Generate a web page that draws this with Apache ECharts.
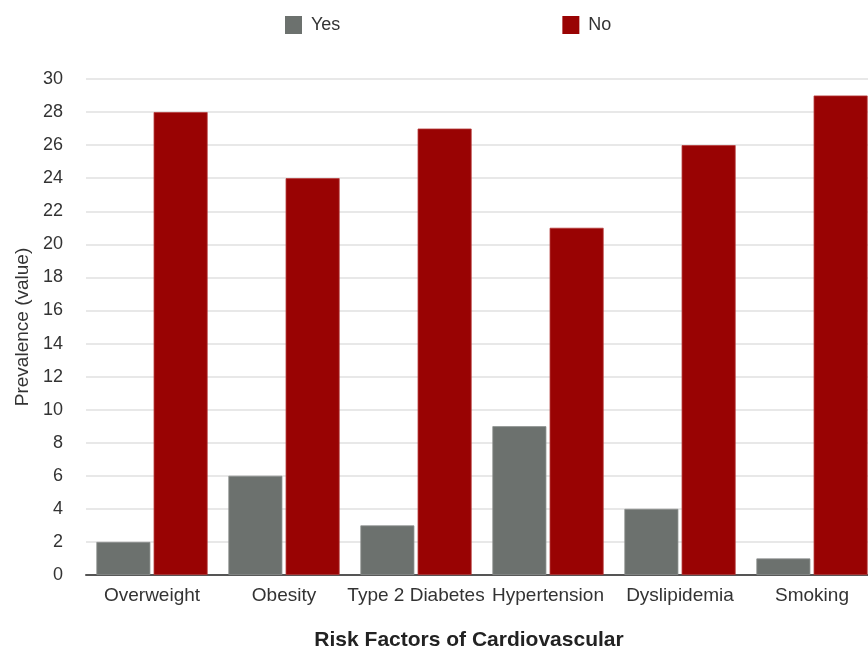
<!DOCTYPE html>
<html>
<head>
<meta charset="utf-8">
<script src="https://cdn.jsdelivr.net/npm/echarts@6/dist/echarts.min.js"></script>
<style>
  html, body { margin: 0; padding: 0; background: #fff; }
  #chart { width: 868px; height: 650px; }
</style>
</head>
<body>
<div id="chart"></div>
<script>
const categories = ['Overweight', 'Obesity', 'Type 2 Diabetes', 'Hypertension', 'Dyslipidemia', 'Smoking'];
const yesValues = [2, 6, 3, 9, 4, 1];
const noValues = [28, 24, 27, 21, 26, 29];
const seriesNames = ['Yes', 'No'];
const xAxisTitle = 'Risk Factors of Cardiovascular';
const yAxisTitle = 'Prevalence (value)';

const FONT = "'Liberation Sans', Arial, Helvetica, sans-serif";
const chart = echarts.init(document.getElementById('chart'), null, { renderer: 'canvas' });
chart.setOption({
  animation: false,
  backgroundColor: '#ffffff',
  textStyle: { fontFamily: FONT },
  legend: {
    data: seriesNames,
    left: 280,
    top: 11,
    itemWidth: 17,
    itemHeight: 18,
    itemGap: 222,
    icon: 'rect',
    itemStyle: { borderWidth: 0 },
    textStyle: { fontSize: 18, color: '#333', fontFamily: FONT, padding: [0, 0, 0, 4] }
  },
  grid: { left: 86, top: 79, width: 792, height: 496, containLabel: false, outerBoundsMode: 'none' },
  xAxis: {
    type: 'category',
    data: categories,
    name: xAxisTitle,
    nameLocation: 'middle',
    nameGap: 55,
    nameTextStyle: { fontSize: 21, fontWeight: 'bold', color: '#222', fontFamily: FONT, padding: [0, 26, 0, 0] },
    axisLine: { show: true, lineStyle: { color: '#555', width: 2 } },
    axisTick: { show: false },
    axisLabel: { fontSize: 19, color: '#333', margin: 11, interval: 0, fontFamily: FONT }
  },
  yAxis: {
    type: 'value',
    min: 0,
    max: 30,
    interval: 2,
    name: yAxisTitle,
    nameLocation: 'middle',
    nameGap: 53,
    nameTextStyle: { fontSize: 19, color: '#333', fontFamily: FONT },
    axisLine: { show: false },
    axisTick: { show: false },
    axisLabel: { fontSize: 18, color: '#333', margin: 23, fontFamily: FONT },
    splitLine: { show: true, lineStyle: { color: '#e0e0e0', width: 1.5 } }
  },
  series: [
    {
      name: seriesNames[0],
      type: 'bar',
      data: yesValues,
      barWidth: 54,
      barGap: '6%',
      itemStyle: { color: '#6c716e', borderColor: '#8d918f', borderWidth: 0.8 }
    },
    {
      name: seriesNames[1],
      type: 'bar',
      data: noValues,
      barWidth: 54,
      barGap: '6%',
      itemStyle: { color: '#990303', borderColor: '#b53a3a', borderWidth: 0.8 }
    }
  ]
});
</script>
</body>
</html>
